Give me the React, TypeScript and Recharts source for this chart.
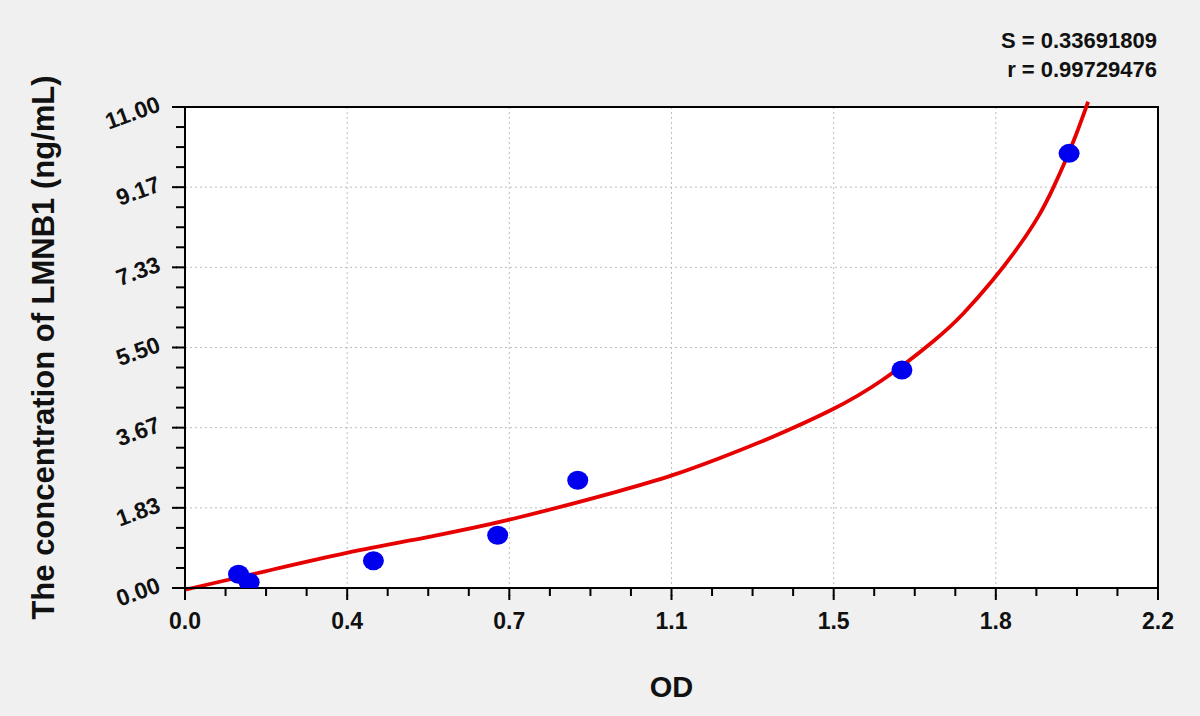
import React from 'react';
import { ComposedChart, Line, Scatter, XAxis, YAxis, CartesianGrid, ReferenceArea } from 'recharts';

// Standard points (OD vs concentration)
const odValues = [0.121, 0.145, 0.426, 0.707, 0.888, 1.621, 1.999];
const concValues = [0.313, 0.13, 0.624, 1.205, 2.463, 4.985, 9.94];

// Fitted curve
const fitOd = [0, 0.177, 0.366, 0.554, 0.73, 1.006, 1.097, 1.21, 1.323, 1.466, 1.572, 1.707, 1.756, 1.828, 1.888, 1.933, 1.963, 1.99, 2.012, 2.042];
const fitConc = [-0.04, 0.37, 0.82, 1.17, 1.53, 2.28, 2.55, 2.97, 3.42, 4.07, 4.68, 5.75, 6.22, 7.04, 7.84, 8.53, 9.14, 9.75, 10.28, 11.12];

// Axis ticks (every 4th tick is a labelled major tick)
const xTicks = [0, 0.0917, 0.1833, 0.275, 0.3667, 0.4583, 0.55, 0.6417, 0.7333, 0.825, 0.9167, 1.0083, 1.1, 1.1917, 1.2833, 1.375, 1.4667, 1.5583, 1.65, 1.7417, 1.8333, 1.925, 2.0167, 2.1083, 2.2];
const xTickLabels = ['0.0', '0.4', '0.7', '1.1', '1.5', '1.8', '2.2'];
const yTicks = [0, 0.4583, 0.9167, 1.375, 1.8333, 2.2917, 2.75, 3.2083, 3.6667, 4.125, 4.5833, 5.0417, 5.5, 5.9583, 6.4167, 6.875, 7.3333, 7.7917, 8.25, 8.7083, 9.1667, 9.625, 10.0833, 10.5417, 11];
const yTickLabels = ['0.00', '1.83', '3.67', '5.50', '7.33', '9.17', '11.00'];
const MAJOR_EVERY = 4;

const statLines = ['S = 0.33691809', 'r = 0.99729476'];
const xLabel = 'OD';
const yLabel = 'The concentration of LMNB1 (ng/mL)';

const scatterData = odValues.map((x, i) => ({ x, y: concValues[i] }));
const curveData = fitOd.map((x, i) => ({ x, y: fitConc[i] }));

const FONT = '"Liberation Sans", Arial, sans-serif';

const XTick = (props: any) => {
  const { x, y, index } = props;
  if (index % MAJOR_EVERY !== 0) return <g />;
  return (
    <g>
      <line x1={x} x2={x} y1={y - 3} y2={y + 2} stroke="#000" strokeWidth={2} />
      <text x={x} y={y} dy={31} textAnchor="middle" fontSize={23} fontWeight="bold" fill="#111" fontFamily={FONT}>
        {xTickLabels[index / MAJOR_EVERY]}
      </text>
    </g>
  );
};

const YTick = (props: any) => {
  const { x, y, index } = props;
  if (index % MAJOR_EVERY !== 0) return <g />;
  const ax = x - 15;
  const ay = y - 4;
  return (
    <g>
      <line x1={x - 2} x2={x + 3} y1={y} y2={y} stroke="#000" strokeWidth={2} />
      <text
        x={ax}
        y={ay}
        textAnchor="end"
        dominantBaseline="central"
        transform={`rotate(-20 ${ax} ${ay})`}
        fontSize={23}
        fontWeight="bold"
        fill="#111"
        fontFamily={FONT}
      >
        {yTickLabels[index / MAJOR_EVERY]}
      </text>
    </g>
  );
};

const GridLine = (props: any) => {
  const { x1, y1, x2, y2, index } = props;
  if (index % MAJOR_EVERY !== 0) return <g />;
  return <line x1={x1} y1={y1} x2={x2} y2={y2} stroke="#bdbdbd" strokeWidth={1} strokeDasharray="2 3" />;
};

const Dot = (props: any) => {
  const { cx, cy } = props;
  return <ellipse cx={cx} cy={cy} rx={10.5} ry={9.5} fill="#0000ee" />;
};

const YLabelContent = (props: any) => {
  const vb = props.viewBox || {};
  const lx = vb.x + 43;
  const ly = vb.y + vb.height / 2;
  return (
    <text
      x={lx}
      y={ly}
      textAnchor="middle"
      dominantBaseline="central"
      transform={`rotate(-90 ${lx} ${ly})`}
      fontSize={31}
      fontWeight="bold"
      fill="#111"
      fontFamily={FONT}
    >
      {yLabel}
    </text>
  );
};

export default function App() {
  return (
    <div style={{ position: 'absolute', left: 0, top: 0, width: 1200, height: 716, background: '#f0f0f0', fontFamily: FONT }}>
      <style>{'.fit-curve, .fit-curve * { clip-path: none !important; }'}</style>
      <ComposedChart width={1200} height={716} margin={{ top: 107, right: 42, bottom: 0, left: 0 }}>
        <XAxis
          dataKey="x"
          type="number"
          domain={[0, 2.2]}
          allowDataOverflow
          ticks={xTicks}
          tick={<XTick />}
          tickSize={8}
          tickLine={{ stroke: '#000', strokeWidth: 2 }}
          axisLine={{ stroke: '#000', strokeWidth: 2 }}
          height={128}
          interval={0}
          label={{ value: xLabel, position: 'insideBottom', offset: 19, fontSize: 29, fontWeight: 'bold', fill: '#111', fontFamily: FONT }}
        />
        <YAxis
          dataKey="y"
          type="number"
          domain={[0, 11]}
          allowDataOverflow
          ticks={yTicks}
          tick={<YTick />}
          tickSize={9}
          tickLine={{ stroke: '#000', strokeWidth: 2 }}
          axisLine={{ stroke: '#000', strokeWidth: 2 }}
          width={185}
          interval={0}
          label={{ content: <YLabelContent /> }}
        />
        <CartesianGrid fill="#ffffff" vertical={<GridLine />} horizontal={<GridLine />} />
        <ReferenceArea x1={0} x2={2.2} y1={0} y2={11} fill="none" stroke="#000" strokeWidth={2} ifOverflow="visible" />
        <Scatter data={scatterData} dataKey="y" shape={<Dot />} isAnimationActive={false} />
        <Line
          data={curveData}
          dataKey="y"
          type="basis"
          stroke="#e60000"
          strokeWidth={3.8}
          dot={false}
          activeDot={false}
          isAnimationActive={false}
          className="fit-curve"
        />
      </ComposedChart>
      <svg width={1200} height={716} style={{ position: 'absolute', left: 0, top: 0, pointerEvents: 'none' }}>
        {statLines.map((s, i) => (
          <text key={s} x={1157} y={48 + i * 29} textAnchor="end" fontSize={22} fontWeight="bold" fill="#111" fontFamily={FONT}>
            {s}
          </text>
        ))}
      </svg>
    </div>
  );
}
